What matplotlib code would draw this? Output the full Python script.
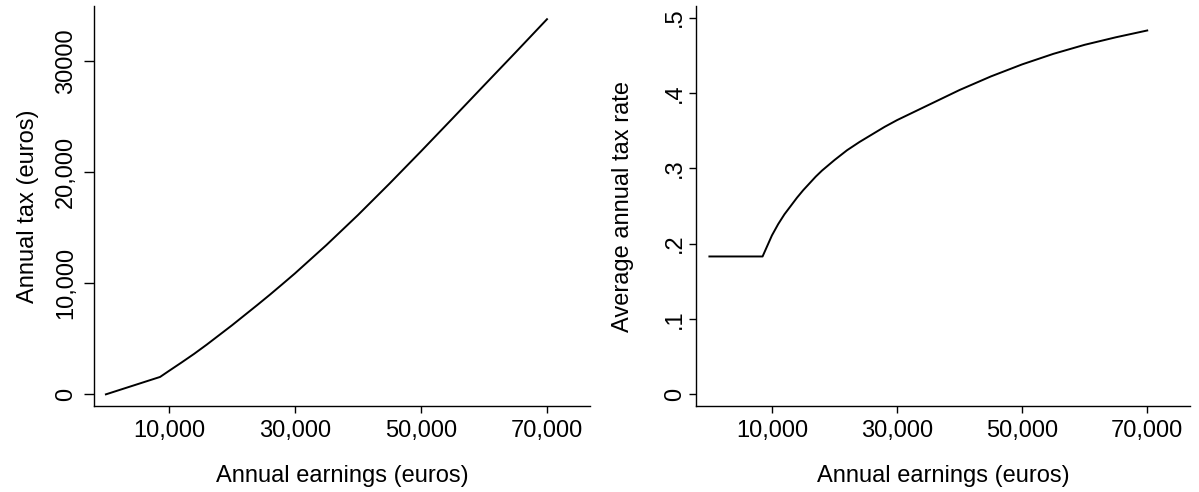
import numpy as np
import matplotlib
matplotlib.use("Agg")
import matplotlib.pyplot as plt

plt.rcParams['font.family'] = ['Liberation Sans', 'DejaVu Sans']

# Datos
earnings = [0, 8600, 10000, 12000, 14000, 16000, 18000, 20000, 22000, 24000,
            26000, 28000, 30000, 35000, 40000, 45000, 50000, 55000, 60000,
            65000, 70000]
annual_tax = [0, 1570, 2110, 2870, 3650, 4480, 5350, 6220, 7130, 8040,
              8970, 9930, 10900, 13460, 16160, 18990, 21900, 24860, 27840,
              30810, 33810]

earnings_rate = [0, 8500, 10000, 11000, 12000, 13000, 14000, 15000, 16000,
                 17000, 18000, 19000, 20000, 22000, 24000, 26000, 28000,
                 30000, 32000, 34000, 36000, 38000, 40000, 45000, 50000,
                 55000, 60000, 65000, 70000]
avg_rate = [0.183, 0.183, 0.211, 0.226, 0.239, 0.250, 0.261, 0.271, 0.280,
            0.289, 0.297, 0.304, 0.311, 0.324, 0.335, 0.345, 0.355,
            0.364, 0.372, 0.380, 0.388, 0.396, 0.404, 0.422, 0.438,
            0.452, 0.464, 0.474, 0.483]

xticks = [10000, 30000, 50000, 70000]
xtick_labels = ['10,000', '30,000', '50,000', '70,000']
tax_ticks = [0, 10000, 20000, 30000]
tax_tick_labels = ['0', '10,000', '20,000', '30000']
rate_ticks = [0, 0.1, 0.2, 0.3, 0.4, 0.5]
rate_tick_labels = ['0', '.1', '.2', '.3', '.4', '.5']

fs = 17

fig = plt.figure(figsize=(11.99, 4.92), dpi=100)
ax1 = fig.add_axes([0.0784, 0.1748, 0.4137, 0.813])
ax2 = fig.add_axes([0.5805, 0.1748, 0.412, 0.813])

for ax in (ax1, ax2):
    for s in ('top', 'right'):
        ax.spines[s].set_visible(False)
    for s in ('left', 'bottom'):
        ax.spines[s].set_linewidth(1.0)
    ax.tick_params(axis='both', length=5, width=1.0, labelsize=fs, pad=5)
    ax.set_xticks(xticks)
    ax.set_xticklabels(xtick_labels)
    ax.set_xlabel('Annual earnings (euros)', fontsize=fs, labelpad=17)

# Panel izquierdo: impuesto anual
ax1.plot(earnings, annual_tax, color='black', lw=1.4)
ax1.set_xlim(-1890, 76830)
ax1.set_ylim(-1050, 35000)
ax1.set_yticks(tax_ticks)
ax1.set_yticklabels(tax_tick_labels, rotation=90, va='center')
ax1.tick_params(axis='y', length=7)
ax1.set_ylabel('Annual tax (euros)', fontsize=fs, labelpad=12)

# Panel derecho: tasa media
ax2.plot(earnings_rate, avg_rate, color='black', lw=1.4)
ax2.set_xlim(-2140, 76840)
ax2.set_ylim(-0.0155, 0.5155)
ax2.set_yticks(rate_ticks)
ax2.set_yticklabels(rate_tick_labels, rotation=90, va='center')
ax2.tick_params(axis='y', pad=2)
ax2.set_ylabel('Average annual tax rate', fontsize=fs, labelpad=22)

fig.savefig('out.png', dpi=100)
plt.close(fig)
